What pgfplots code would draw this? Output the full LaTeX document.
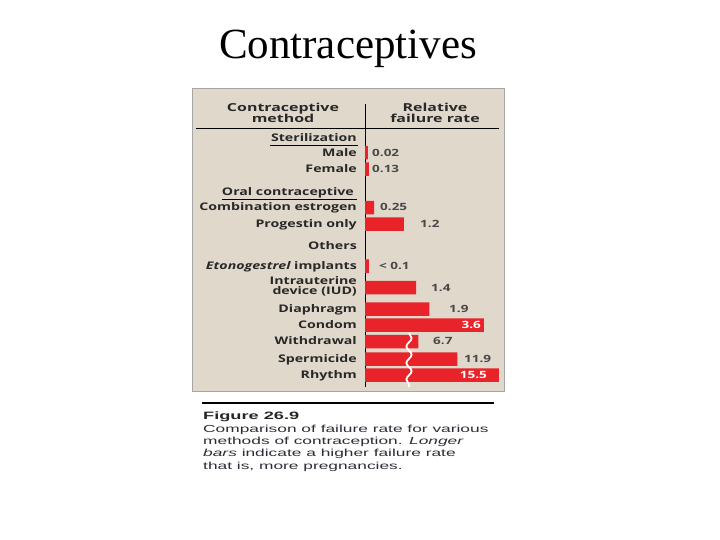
\documentclass[border=0pt]{standalone}
\usepackage{pgfplots}
\pgfplotsset{compat=1.18}
\usepackage{pgfplotstable}
\usetikzlibrary{decorations.pathmorphing}
\usepackage{fontspec}
\setmainfont{Liberation Serif}
\newfontfamily\panelfont[FakeStretch=1.35]{Open Sans}
\newfontfamily\headfont[FakeStretch=1.45]{Open Sans}
\newfontfamily\capfont[FakeStretch=1.70]{Liberation Sans}
\definecolor{beige}{RGB}{224,216,203}
\definecolor{barred}{RGB}{232,36,42}
\definecolor{txt}{RGB}{40,40,40}
\definecolor{captxt}{RGB}{45,45,55}

% row = vertical position of the row, value = printed failure rate,
% drawn = length of the drawn bar (last three bars are broken)
\pgfplotstableread{
row   value drawn
152.5 0.02  0.09
169   0.13  0.12
207.5 0.25  0.28
224   1.2   1.18
266   0.1   0.12
287.5 1.4   1.55
309   1.9   1.95
325   3.6   3.6
341.5 6.7   1.62
359   11.9  2.8
375   15.5  4.06
}\rates

\begin{document}
\begin{tikzpicture}[x=1pt,y=-1pt]
\useasboundingbox (0,0) rectangle (720,540);
% title
\node[anchor=base, inner sep=0pt, font=\fontsize{43}{50}\selectfont] at (348,59) {Contraceptives};
% panel
\fill[beige] (192,88) rectangle (504,391);
\draw[gray!70, line width=0.8] (192,88) rectangle (504,391);
\draw[black, line width=0.8] (365,104) -- (365,387);
\draw[black, line width=0.8] (196,128.5) -- (499,128.5);
\draw[black, line width=0.7] (270,145.5) -- (358,145.5);
\draw[black, line width=0.7] (222,199) -- (357,199);

\begin{axis}[at={(365pt,-391pt)}, anchor=south west, scale only axis,
  width=134pt, height=303pt, xmin=0, xmax=4.0606, ymin=88, ymax=391,
  y dir=reverse, hide axis, clip=false]
\addplot[xbar, bar width=13.5pt, fill=barred, draw=none] table[x=drawn, y=row] {\rates};
\end{axis}

% break marks on the long bars
\draw[white, line width=1.8, decorate, decoration={snake, segment length=16.5, amplitude=2.6}] (409,333) -- (409,387);

% headers
\begin{scope}[every node/.style={font=\headfont\bfseries\fontsize{11}{11.5}\selectfont, text=txt, inner sep=0pt}]
\node[align=center] at (283,113) {Contraceptive\\method};
\node[align=center] at (435,113) {Relative\\failure rate};
\end{scope}

% row labels
\begin{scope}[every node/.style={font=\panelfont\bfseries\fontsize{10.5}{10.5}\selectfont, text=txt, inner sep=0pt, anchor=mid east}]
\node at (357,139) {Sterilization};
\node at (357,154) {Male};
\node at (357,170) {Female};
\node at (354,193.5) {Oral contraceptive};
\node at (357,208.5) {Combination estrogen};
\node at (357,225) {Progestin only};
\node at (357,247) {Others};
\node at (357,267) {{\itshape Etonogestrel} implants};
\node at (357,282) {Intrauterine};
\node at (357,292) {device (IUD)};
\node at (357,310) {Diaphragm};
\node at (357,326) {Condom};
\node at (357,342.5) {Withdrawal};
\node at (357,360) {Spermicide};
\node at (357,376) {Rhythm};
\end{scope}

% value labels
\begin{scope}[every node/.style={font=\panelfont\bfseries\fontsize{10}{10.5}\selectfont, text=txt!85, inner sep=0pt, anchor=mid west}]
\node at (372,154) {0.02};
\node at (372,170) {0.13};
\node at (380,208.5) {0.25};
\node at (420,225) {1.2};
\node at (379,267) {< 0.1};
\node at (431,289) {1.4};
\node at (449,310) {1.9};
\node at (433,342.5) {6.7};
\node at (464,360) {11.9};
\node[anchor=mid east, text=white] at (481,326) {3.6};
\node[anchor=mid east, text=white] at (487,376) {15.5};
\end{scope}

% caption
\draw[black, line width=2.2] (202,403) -- (494,403);
\begin{scope}[every node/.style={font=\capfont\fontsize{10.2}{12}\selectfont, text=captxt, inner sep=0pt, anchor=base west}]
\node[font=\capfont\bfseries\fontsize{10.7}{12}\selectfont, text=black!85] at (203,419.5) {Figure 26.9};
\node at (203,432) {Comparison of failure rate for various};
\node at (203,444.3) {methods of contraception. \textit{Longer}};
\node at (203,456.6) {\textit{bars} indicate a higher failure rate};
\node at (203,469) {that is, more pregnancies.};
\end{scope}
\end{tikzpicture}
\end{document}
